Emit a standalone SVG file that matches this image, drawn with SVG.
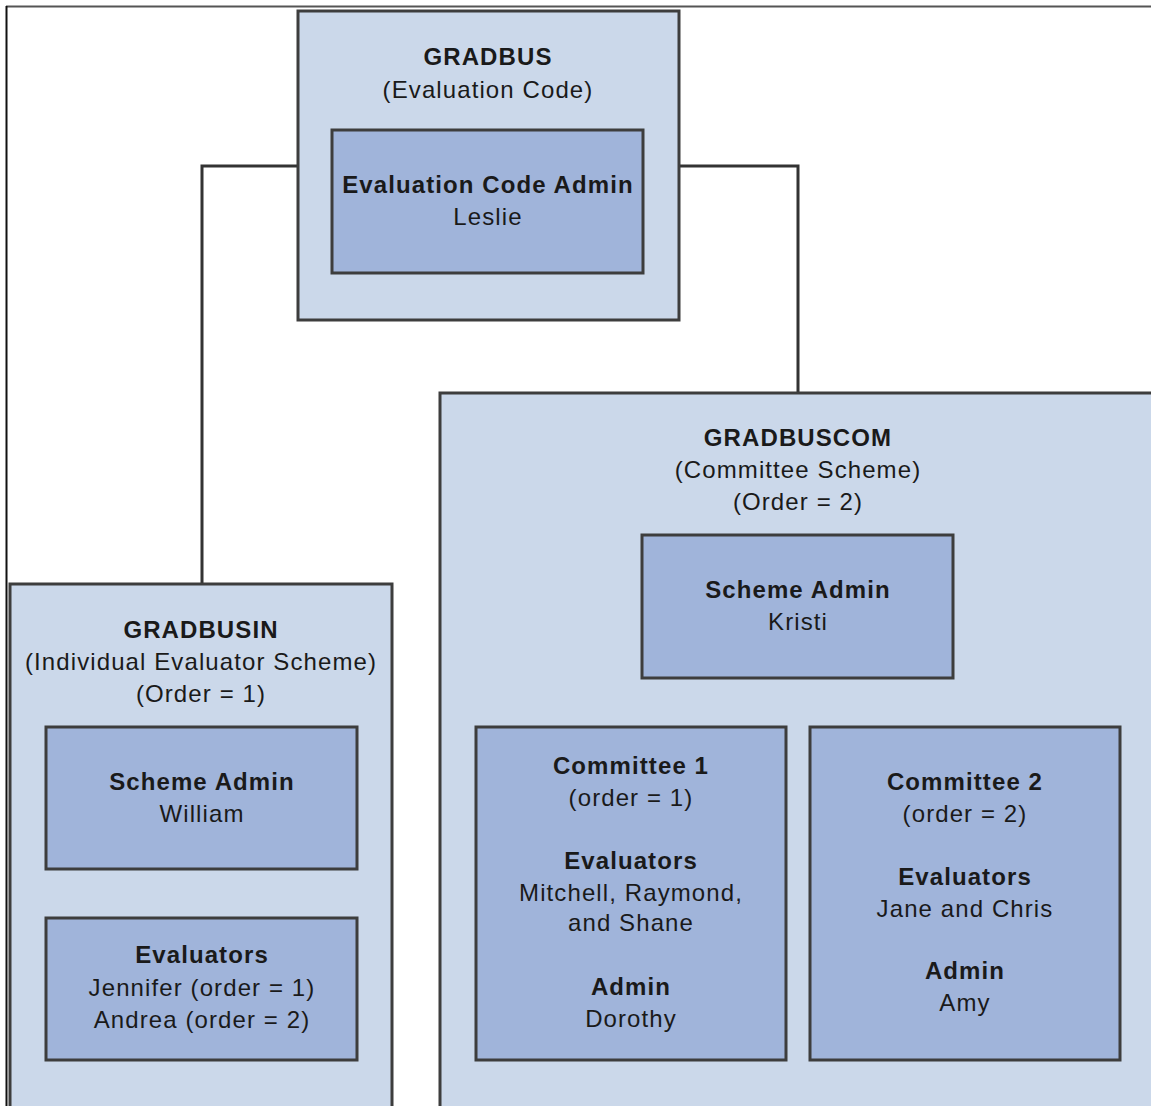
<svg xmlns="http://www.w3.org/2000/svg" width="1151" height="1106" viewBox="0 0 1151 1106">
<style>
.outer{fill:#cbd8ea;stroke:#3d3d3d;stroke-width:3}
.inner{fill:#a0b4da;stroke:#3d3d3d;stroke-width:3}
.conn{fill:none;stroke:#333;stroke-width:3}
text{font-family:"Liberation Sans",Arial,sans-serif;font-size:24px;fill:#1a1a1a;text-anchor:middle;letter-spacing:1.1px}
.b{font-weight:bold}
</style>
<rect x="0" y="0" width="1151" height="1106" fill="#ffffff"/>
<g id="frame">
<line x1="6" y1="6.5" x2="1151" y2="6.5" stroke="#555" stroke-width="2"/>
<line x1="6.5" y1="6" x2="6.5" y2="1106" stroke="#111" stroke-width="2"/>
</g>
<g id="connectors">
<polyline class="conn" points="298,166 202,166 202,584"/>
<polyline class="conn" points="679,166 798,166 798,393"/>
</g>
<g id="gradbus">
<rect class="outer" x="298" y="11" width="381" height="309"/>
<text class="b" x="488" y="65">GRADBUS</text>
<text x="488" y="98">(Evaluation Code)</text>
</g>
<g id="eval-code-admin">
<rect class="inner" x="332" y="130" width="311" height="143"/>
<text class="b" x="488" y="193">Evaluation Code Admin</text>
<text x="488" y="225">Leslie</text>
</g>
<g id="gradbusin">
<rect class="outer" x="10" y="584" width="382" height="540"/>
<text class="b" x="201" y="638">GRADBUSIN</text>
<text x="201" y="670">(Individual Evaluator Scheme)</text>
<text x="201" y="702">(Order = 1)</text>
</g>
<g id="scheme-admin-william">
<rect class="inner" x="46" y="727" width="311" height="142"/>
<text class="b" x="202" y="790">Scheme Admin</text>
<text x="202" y="822">William</text>
</g>
<g id="evaluators-individual">
<rect class="inner" x="46" y="918" width="311" height="142"/>
<text class="b" x="202" y="963">Evaluators</text>
<text x="202" y="996">Jennifer (order = 1)</text>
<text x="202" y="1028">Andrea (order = 2)</text>
</g>
<g id="gradbuscom">
<rect class="outer" x="440" y="393" width="730" height="730"/>
<text class="b" x="798" y="446">GRADBUSCOM</text>
<text x="798" y="478">(Committee Scheme)</text>
<text x="798" y="510">(Order = 2)</text>
</g>
<g id="scheme-admin-kristi">
<rect class="inner" x="642" y="535" width="311" height="143"/>
<text class="b" x="798" y="598">Scheme Admin</text>
<text x="798" y="630">Kristi</text>
</g>
<g id="committee-1">
<rect class="inner" x="476" y="727" width="310" height="333"/>
<text class="b" x="631" y="774">Committee 1</text>
<text x="631" y="806">(order = 1)</text>
<text class="b" x="631" y="869">Evaluators</text>
<text x="631" y="901">Mitchell, Raymond,</text>
<text x="631" y="931">and Shane</text>
<text class="b" x="631" y="995">Admin</text>
<text x="631" y="1027">Dorothy</text>
</g>
<g id="committee-2">
<rect class="inner" x="810" y="727" width="310" height="333"/>
<text class="b" x="965" y="790">Committee 2</text>
<text x="965" y="822">(order = 2)</text>
<text class="b" x="965" y="885">Evaluators</text>
<text x="965" y="917">Jane and Chris</text>
<text class="b" x="965" y="979">Admin</text>
<text x="965" y="1011">Amy</text>
</g>
</svg>
